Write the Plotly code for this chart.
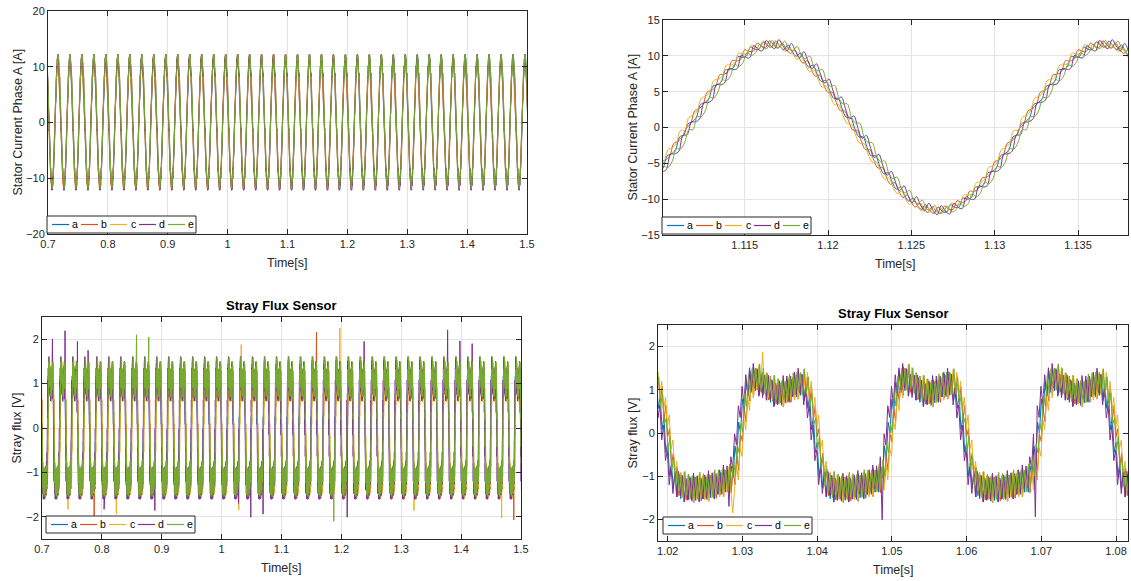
import numpy as np
import plotly.graph_objects as go

series_names = ['a', 'b', 'c', 'd', 'e']
series_colors = ['#0072BD', '#D95319', '#EDB120', '#7E2F8E', '#77AC30']

period = 0.02      # 50 Hz supply
dt = 0.00025       # sample step of the cycles below

# one period of stator current for each run,
# starting at the rising zero crossing
current_a = [0.5, 0.81, 1.41, 3.21, 3.48, 4.04, 5.77, 5.96, 6.42, 8.03, 8.10, 8.42, 9.88, 9.79, 9.94, 11.22,
             10.93, 10.88, 11.96, 11.46, 11.20, 12.06, 11.36, 10.88, 11.53, 10.62, 9.94, 10.39, 9.28, 8.42,
             8.70, 7.43, 6.42, 6.56, 5.17, 4.04, 4.08, 2.61, 1.41, 1.41, -0.10, -1.31, -1.31, -2.81, -3.98,
             -3.94, -5.37, -6.46, -6.32, -7.63, -8.60, -8.32, -9.48, -10.29, -9.84, -10.82, -11.43, -10.78,
             -11.56, -11.96, -11.10, -11.66, -11.86, -10.78, -11.13, -11.12, -9.84, -9.99, -9.78, -8.32,
             -8.30, -7.93, -6.32, -6.16, -5.67, -3.94, -3.68, -3.11, -1.31, -1.01]
current_b = [-0.10, 0.51, 2.31, 2.61, 3.18, 4.94, 5.17, 5.66, 7.32, 7.43, 7.80, 9.32, 9.28, 9.49, 10.84, 10.62,
             10.63, 11.78, 11.36, 11.16, 12.10, 11.46, 11.06, 11.78, 10.93, 10.32, 10.84, 9.79, 8.98, 9.32,
             8.10, 7.13, 7.32, 5.96, 4.87, 4.94, 3.48, 2.31, 2.31, 0.81, -0.40, -0.41, -1.91, -3.11, -3.08,
             -4.54, -5.67, -5.56, -6.92, -7.93, -7.70, -8.92, -9.78, -9.39, -10.44, -11.12, -10.53, -11.38,
             -11.86, -11.06, -11.70, -11.96, -10.96, -11.38, -11.43, -10.22, -10.44, -10.29, -8.88, -8.92,
             -8.60, -7.03, -6.92, -6.46, -4.77, -4.54, -3.98, -2.21, -1.91, -1.31]
current_c = [-0.40, 1.41, 1.71, 2.31, 4.08, 4.34, 4.87, 6.56, 6.72, 7.13, 8.70, 8.72, 8.98, 10.39, 10.24, 10.32,
             11.53, 11.18, 11.06, 12.06, 11.50, 11.16, 11.96, 11.18, 10.63, 11.22, 10.24, 9.49, 9.88, 8.72,
             7.80, 8.03, 6.72, 5.66, 5.77, 4.34, 3.18, 3.21, 1.71, 0.51, 0.50, -1.01, -2.21, -2.21, -3.68,
             -4.84, -4.77, -6.16, -7.22, -7.03, -8.30, -9.22, -8.88, -9.99, -10.74, -10.22, -11.13, -11.68,
             -10.96, -11.66, -12.00, -11.06, -11.56, -11.68, -10.53, -10.82, -10.74, -9.39, -9.48, -9.22,
             -7.70, -7.63, -7.22, -5.56, -5.37, -4.84, -3.08, -2.81, -2.21, -0.41]
current_d = [0.70, 0.81, 1.21, 3.41, 3.48, 3.84, 5.97, 5.96, 6.22, 8.23, 8.10, 8.22, 10.08, 9.79, 9.74, 11.42,
             10.93, 10.68, 12.16, 11.46, 11.00, 12.26, 11.36, 10.68, 11.73, 10.62, 9.74, 10.59, 9.28, 8.22,
             8.90, 7.43, 6.22, 6.76, 5.17, 3.84, 4.28, 2.61, 1.21, 1.61, -0.10, -1.51, -1.11, -2.81, -4.18,
             -3.74, -5.37, -6.66, -6.12, -7.63, -8.80, -8.12, -9.48, -10.49, -9.64, -10.82, -11.63, -10.58,
             -11.56, -12.16, -10.90, -11.66, -12.06, -10.58, -11.13, -11.32, -9.64, -9.99, -9.98, -8.12,
             -8.30, -8.13, -6.12, -6.16, -5.87, -3.74, -3.68, -3.31, -1.11, -1.01]
current_e = [-0.30, 1.51, 1.51, 2.41, 4.18, 4.14, 4.97, 6.66, 6.52, 7.23, 8.80, 8.52, 9.08, 10.49, 10.04, 10.42,
             11.63, 10.98, 11.16, 12.16, 11.30, 11.26, 12.06, 10.98, 10.73, 11.32, 10.04, 9.59, 9.98, 8.52,
             7.90, 8.13, 6.52, 5.76, 5.87, 4.14, 3.28, 3.31, 1.51, 0.61, 0.60, -1.21, -2.11, -2.11, -3.88,
             -4.74, -4.67, -6.36, -7.12, -6.93, -8.50, -9.12, -8.78, -10.19, -10.64, -10.12, -11.33, -11.58,
             -10.86, -11.86, -11.90, -10.96, -11.76, -11.58, -10.43, -11.02, -10.64, -9.29, -9.68, -9.12,
             -7.60, -7.83, -7.12, -5.46, -5.57, -4.74, -2.98, -3.01, -2.11, -0.31]
current_zero = 1.1116
current_shift = [0.0, -0.0001, -0.0002, 0.0002, 0.0003]

# one period of the stray flux signal for each run, starting at the rising edge
flux_a = [0.25, 0.00, 0.78, 0.47, 1.17, 0.87, 1.44, 0.94, 1.53, 0.98, 1.46, 0.88, 1.35, 0.88, 1.34, 0.76,
          1.29, 0.71, 1.19, 0.62, 1.11, 0.67, 1.17, 0.64, 1.23, 0.70, 1.23, 0.71, 1.24, 0.84, 1.36, 0.84,
          1.42, 0.87, 1.35, 0.75, 1.15, 0.57, 0.87, 0.08, 0.37, -0.45, -0.22, -1.00, -0.70, -1.28, -0.88,
          -1.48, -0.95, -1.52, -1.03, -1.59, -1.10, -1.53, -1.04, -1.58, -1.01, -1.56, -1.05, -1.60, -1.09,
          -1.52, -1.01, -1.54, -0.96, -1.50, -0.99, -1.53, -1.01, -1.42, -0.90, -1.42, -0.83, -1.37, -0.86,
          -1.37, -0.77, -1.03, -0.30, -0.59]
flux_b = [-0.20, 0.55, 0.26, 1.00, 0.74, 1.37, 0.87, 1.50, 1.08, 1.53, 0.94, 1.41, 0.92, 1.38, 0.77, 1.32,
          0.84, 1.26, 0.67, 1.15, 0.68, 1.17, 0.60, 1.20, 0.78, 1.25, 0.71, 1.24, 0.81, 1.34, 0.79, 1.40,
          0.97, 1.42, 0.83, 1.28, 0.72, 1.07, 0.30, 0.64, -0.08, 0.10, -0.74, -0.47, -1.13, -0.78, -1.45,
          -0.92, -1.40, -0.97, -1.55, -1.06, -1.53, -1.03, -1.61, -1.02, -1.46, -1.01, -1.57, -1.07, -1.52,
          -1.02, -1.58, -0.98, -1.41, -0.95, -1.51, -1.00, -1.44, -0.92, -1.47, -0.86, -1.28, -0.82, -1.38,
          -0.84, -1.20, -0.53, -0.87, -0.03]
flux_c = [0.30, 0.08, 0.84, 0.52, 1.22, 0.81, 1.40, 0.99, 1.58, 1.06, 1.52, 0.93, 1.40, 0.82, 1.30, 0.81,
          1.34, 0.79, 1.25, 0.67, 1.16, 0.61, 1.13, 0.69, 1.28, 0.78, 1.29, 0.76, 1.29, 0.78, 1.32, 0.89,
          1.47, 0.95, 1.41, 0.80, 1.20, 0.51, 0.83, 0.13, 0.42, -0.37, -0.16, -0.95, -0.65, -1.34, -0.92,
          -1.43, -0.90, -1.44, -0.97, -1.54, -1.05, -1.59, -1.08, -1.53, -0.96, -1.48, -0.99, -1.55, -1.04,
          -1.58, -1.05, -1.49, -0.91, -1.42, -0.93, -1.48, -0.96, -1.48, -0.94, -1.37, -0.78, -1.29, -0.80,
          -1.32, -0.72, -1.09, -0.34, -0.54]
flux_d = [-0.28, 0.63, 0.36, 1.08, 0.67, 1.35, 0.92, 1.51, 1.00, 1.61, 1.04, 1.49, 0.85, 1.36, 0.82, 1.33,
          0.76, 1.34, 0.77, 1.23, 0.61, 1.15, 0.65, 1.21, 0.70, 1.33, 0.81, 1.32, 0.74, 1.32, 0.84, 1.41,
          0.89, 1.50, 0.93, 1.36, 0.65, 1.05, 0.35, 0.65, -0.16, 0.18, -0.64, -0.39, -1.20, -0.80, -1.40,
          -0.91, -1.48, -0.89, -1.45, -0.98, -1.60, -1.05, -1.56, -1.01, -1.54, -0.93, -1.47, -0.99, -1.59,
          -1.04, -1.53, -0.97, -1.49, -0.87, -1.41, -0.92, -1.51, -0.94, -1.42, -0.85, -1.36, -0.74, -1.28,
          -0.76, -1.27, -0.55, -0.82, -0.02]
flux_e = [0.22, 0.02, 0.92, 0.62, 1.32, 0.91, 1.49, 1.07, 1.50, 1.00, 1.60, 1.03, 1.50, 0.92, 1.39, 0.89,
          1.26, 0.73, 1.33, 0.77, 1.26, 0.71, 1.22, 0.77, 1.20, 0.72, 1.37, 0.86, 1.39, 0.88, 1.41, 0.97,
          1.39, 0.89, 1.49, 0.90, 1.30, 0.61, 0.92, 0.21, 0.34, -0.43, -0.08, -0.85, -0.55, -1.24, -0.83,
          -1.35, -0.98, -1.50, -0.89, -1.44, -0.95, -1.49, -0.99, -1.45, -1.04, -1.54, -0.91, -1.45, -0.94,
          -1.48, -0.96, -1.41, -0.99, -1.48, -0.85, -1.38, -0.86, -1.38, -0.85, -1.29, -0.86, -1.35, -0.72,
          -1.22, -0.62, -0.99, -0.25, -0.46]
flux_zero = 1.0297
flux_shift = [-0.0002, 0.0003, 0.0005, -0.0005, 0.0001]

# isolated spikes seen on the stray flux plots: (run, time [s], value [V])
flux_spikes = [
    ('d', 0.7174, 2.00), ('d', 0.7384, 2.19), ('d', 0.7591, 1.95), ('d', 0.7769, 1.75),
    ('e', 0.8577, 2.10), ('e', 0.8783, 2.05), ('b', 1.1585, 2.16), ('c', 1.1974, 2.25),
    ('d', 1.2380, 1.95), ('d', 1.3774, 2.21), ('d', 1.3979, 1.96), ('d', 1.4185, 1.90),
    ('c', 1.0328, 1.88),
    ('c', 0.7434, -1.83), ('b', 0.7869, -1.98), ('d', 0.8036, -1.83), ('c', 0.8243, -1.94),
    ('d', 0.8885, -1.86), ('d', 1.0486, -2.01), ('d', 1.0692, -1.94), ('e', 1.1874, -2.10),
    ('d', 1.2096, -2.01), ('c', 1.3211, -1.86), ('c', 1.4676, -2.03), ('b', 1.4881, -2.07),
    ('c', 1.0287, -1.85), ('d', 1.0281, -1.70),
]

current_cycles = [current_a, current_b, current_c, current_d, current_e]
flux_cycles = [flux_a, flux_b, flux_c, flux_d, flux_e]


def tile(cycle, zero, shift, t0=0.69, t1=1.51):
    cycle = np.asarray(cycle, dtype=float)
    k0 = int(np.floor((t0 - zero) / period))
    k1 = int(np.ceil((t1 - zero) / period))
    ks = np.arange(k0, k1 + 1)
    t = (zero + shift + ks[:, None] * period + np.arange(len(cycle))[None, :] * dt).ravel()
    return t, np.tile(cycle, len(ks))


current = {}
flux = {}
for i, name in enumerate(series_names):
    current[name] = tile(current_cycles[i], current_zero, current_shift[i])
    flux[name] = tile(flux_cycles[i], flux_zero, flux_shift[i])

for name, ts, val in flux_spikes:
    t, y = flux[name]
    y[np.argmin(np.abs(t - ts))] = val

FONT = 'Liberation Sans, Arial, Helvetica, sans-serif'
INK = '#262626'
W, H = 1131, 581

fig = go.Figure()


def add(data, xa, ya, lo=None, hi=None, shape='linear'):
    for i, name in enumerate(series_names):
        t, y = data[name]
        if lo is not None:
            m = (t >= lo) & (t <= hi)
            t, y = t[m], y[m]
        fig.add_trace(go.Scatter(
            x=t, y=y, mode='lines', name=name, xaxis=xa, yaxis=ya, showlegend=False,
            line=dict(color=series_colors[i], width=1, shape=shape)))


add(current, 'x', 'y')
add(current, 'x2', 'y2', 1.109, 1.139, 'spline')
add(flux, 'x3', 'y3')
add(flux, 'x4', 'y4', 1.018, 1.083)

ax = dict(showline=True, linecolor=INK, linewidth=1, mirror='ticks', ticks='inside', ticklen=5,
          tickcolor=INK, showgrid=True, gridcolor='#e3e3e3', zeroline=False, automargin=False,
          tickfont=dict(family=FONT, size=11, color=INK))


def dom_x(a, b):
    return [a / W, b / W]


def dom_y(top, bottom):
    return [1 - bottom / H, 1 - top / H]


shapes = []
annotations = []

# axis titles, placed where the reference puts them
axis_titles = [('x', 'y', 'Stator Current Phase A [A]', -31),
               ('x2', 'y2', 'Stator Current Phase A [A]', -30),
               ('x3', 'y3', 'Stray flux [V]', -25.5),
               ('x4', 'y4', 'Stray flux [V]', -25.5)]
for xr, yr, ytext, yoff in axis_titles:
    annotations.append(dict(text='Time[s]', xref=xr + ' domain', yref=yr + ' domain', x=0.5, y=0,
                            yshift=-29, xanchor='center', yanchor='middle', showarrow=False,
                            font=dict(family=FONT, size=12.5, color=INK)))
    annotations.append(dict(text=ytext, xref=xr + ' domain', yref=yr + ' domain', x=0, y=0.5,
                            xshift=yoff, textangle=-90, xanchor='center', yanchor='middle',
                            showarrow=False, font=dict(family=FONT, size=12.5, color=INK)))

# MATLAB-style boxed legend in the lower left corner of each axes
legend_spots = [('x', 'y', 0, 0), ('x2', 'y2', 0, 0), ('x3', 'y3', 5, 5), ('x4', 'y4', 6, 6)]
for xr, yr, ix, iy in legend_spots:
    base = dict(xref=xr + ' domain', yref=yr + ' domain', xsizemode='pixel', ysizemode='pixel',
                xanchor=0, yanchor=0)
    shapes.append(dict(base, type='rect', x0=ix - 1, x1=ix + 148, y0=iy + 1, y1=iy + 18,
                       line=dict(color=INK, width=1), fillcolor='white'))
    for k, name in enumerate(series_names):
        x0 = ix + 4 + 29 * k
        shapes.append(dict(base, type='line', x0=x0, x1=x0 + 17, y0=iy + 9.5, y1=iy + 9.5,
                           line=dict(color=series_colors[k], width=1.2)))
        annotations.append(dict(text=name, xref=xr + ' domain', yref=yr + ' domain', x=0, y=0,
                                xshift=x0 + 23, yshift=iy + 10, xanchor='center', yanchor='middle',
                                showarrow=False, font=dict(family=FONT, size=10.5, color='black')))

for xr, yr in [('x3', 'y3'), ('x4', 'y4')]:
    annotations.append(dict(text='<b>Stray Flux Sensor</b>', xref=xr + ' domain', yref=yr + ' domain',
                            x=0.5, y=1, xanchor='center', yanchor='bottom', yshift=2, showarrow=False,
                            font=dict(family=FONT, size=13, color='black')))

fig.update_layout(
    width=W, height=H, margin=dict(l=0, r=0, t=0, b=0),
    paper_bgcolor='white', plot_bgcolor='white', font=dict(family=FONT, color=INK),
    showlegend=False,
    xaxis=dict(ax, domain=dom_x(48, 527), range=[0.7, 1.5], tick0=0.7, dtick=0.1, anchor='y'),
    yaxis=dict(ax, domain=dom_y(11, 234), range=[-20, 20], dtick=10, anchor='x'),
    xaxis2=dict(ax, domain=dom_x(663, 1128), range=[1.1101, 1.1380], tick0=1.115, dtick=0.005,
                anchor='y2'),
    yaxis2=dict(ax, domain=dom_y(20, 235), range=[-15, 15], dtick=5, anchor='x2'),
    xaxis3=dict(ax, domain=dom_x(42, 521), range=[0.7, 1.5], tick0=0.7, dtick=0.1, anchor='y3'),
    yaxis3=dict(ax, domain=dom_y(317, 539), range=[-2.5, 2.5], dtick=1, anchor='x3'),
    xaxis4=dict(ax, domain=dom_x(658, 1128), range=[1.0187, 1.0816], tick0=1.02, dtick=0.01,
                anchor='y4'),
    yaxis4=dict(ax, domain=dom_y(325, 541), range=[-2.5, 2.5], dtick=1, anchor='x4'),
    shapes=shapes,
    annotations=annotations,
)

# drop the browser's default page margin so the figure sits at the window corner
fig.write_html('out.html', config={'displayModeBar': False},
               post_script="document.body.style.margin='0';")
